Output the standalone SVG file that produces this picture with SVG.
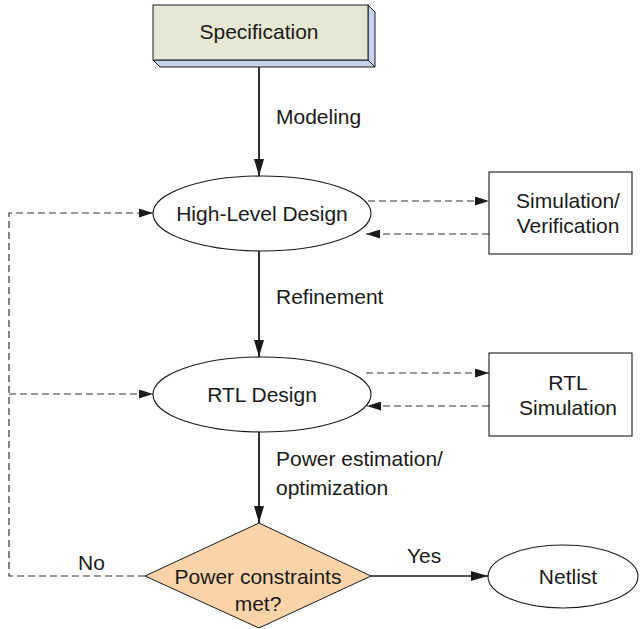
<svg xmlns="http://www.w3.org/2000/svg" width="640" height="629" viewBox="0 0 640 629">
<defs>
<style>
text{font-family:"Liberation Sans",Arial,sans-serif;font-size:21px;fill:#1a1a1a}
.c{text-anchor:middle}
.node{fill:#fff;stroke:#1a1a1a;stroke-width:1.1}
.solid{fill:none;stroke:#1a1a1a;stroke-width:1.8}
.dash{fill:none;stroke:#333;stroke-width:1.2;stroke-dasharray:7 4}
</style>
<marker id="ah" markerUnits="userSpaceOnUse" markerWidth="17" markerHeight="10" refX="17" refY="5" orient="auto">
<path d="M0,0 L17,5 L0,10 z" fill="#1a1a1a"/>
</marker>
<marker id="ahd" markerUnits="userSpaceOnUse" markerWidth="14" markerHeight="9" refX="14" refY="4.5" orient="auto">
<path d="M0,0 L14,4.5 L0,9 z" fill="#1a1a1a"/>
</marker>
</defs>
<rect width="640" height="629" fill="#fff"/>
<g id="connectors">
<path class="solid" d="M259,67 V176" marker-end="url(#ah)"/>
<path class="solid" d="M259,251 V357" marker-end="url(#ah)"/>
<path class="solid" d="M259,432 V523" marker-end="url(#ah)"/>
<path class="solid" style="stroke-width:1.3" d="M371,576 H488" marker-end="url(#ah)"/>
<path class="dash" d="M368,201 H489" marker-end="url(#ahd)"/>
<path class="dash" d="M489,234 H366" marker-end="url(#ahd)"/>
<path class="dash" d="M366,373 H489" marker-end="url(#ahd)"/>
<path class="dash" d="M489,406 H367" marker-end="url(#ahd)"/>
<path class="dash" d="M145,576 H9 V213 H153" marker-end="url(#ahd)"/>
<path class="dash" d="M9,394 H153" marker-end="url(#ahd)"/>
<text x="276" y="124">Modeling</text>
<text x="276" y="304">Refinement</text>
<text x="276" y="466">Power estimation/</text>
<text x="276" y="495">optimization</text>
<text x="407" y="563">Yes</text>
<text x="78" y="570">No</text>
</g>
<g id="specification">
<polygon points="368,5 375,12 375,67 368,60" fill="#C4D4EE" stroke="#1a1a1a" stroke-width="1"/>
<polygon points="153,60 368,60 375,67 160,67" fill="#C4D4EE" stroke="#1a1a1a" stroke-width="1"/>
<rect x="153" y="5" width="215" height="55" fill="#E6E8D4" stroke="#1a1a1a" stroke-width="1"/>
<text class="c" x="259" y="39">Specification</text>
</g>
<g id="high-level-design">
<ellipse class="node" cx="262" cy="213.5" rx="109" ry="37.5"/>
<text class="c" x="262" y="221">High-Level Design</text>
</g>
<g id="simulation-verification">
<rect class="node" x="489" y="172" width="143" height="82"/>
<text class="c" x="568" y="208">Simulation/</text>
<text class="c" x="568" y="233">Verification</text>
</g>
<g id="rtl-design">
<ellipse class="node" cx="262" cy="394.5" rx="109" ry="37.5"/>
<text class="c" x="262" y="402">RTL Design</text>
</g>
<g id="rtl-simulation">
<rect class="node" x="489" y="353" width="143" height="83"/>
<text class="c" x="568" y="390">RTL</text>
<text class="c" x="568" y="415">Simulation</text>
</g>
<g id="power-constraints">
<polygon points="259,523 371,576 259,628 145,576" fill="#FBD3A9" stroke="#1a1a1a" stroke-width="1"/>
<text class="c" x="258" y="584">Power constraints</text>
<text class="c" x="258" y="611">met?</text>
</g>
<g id="netlist">
<ellipse class="node" cx="563" cy="576.5" rx="75" ry="31.5"/>
<text class="c" x="568" y="584">Netlist</text>
</g>
</svg>
